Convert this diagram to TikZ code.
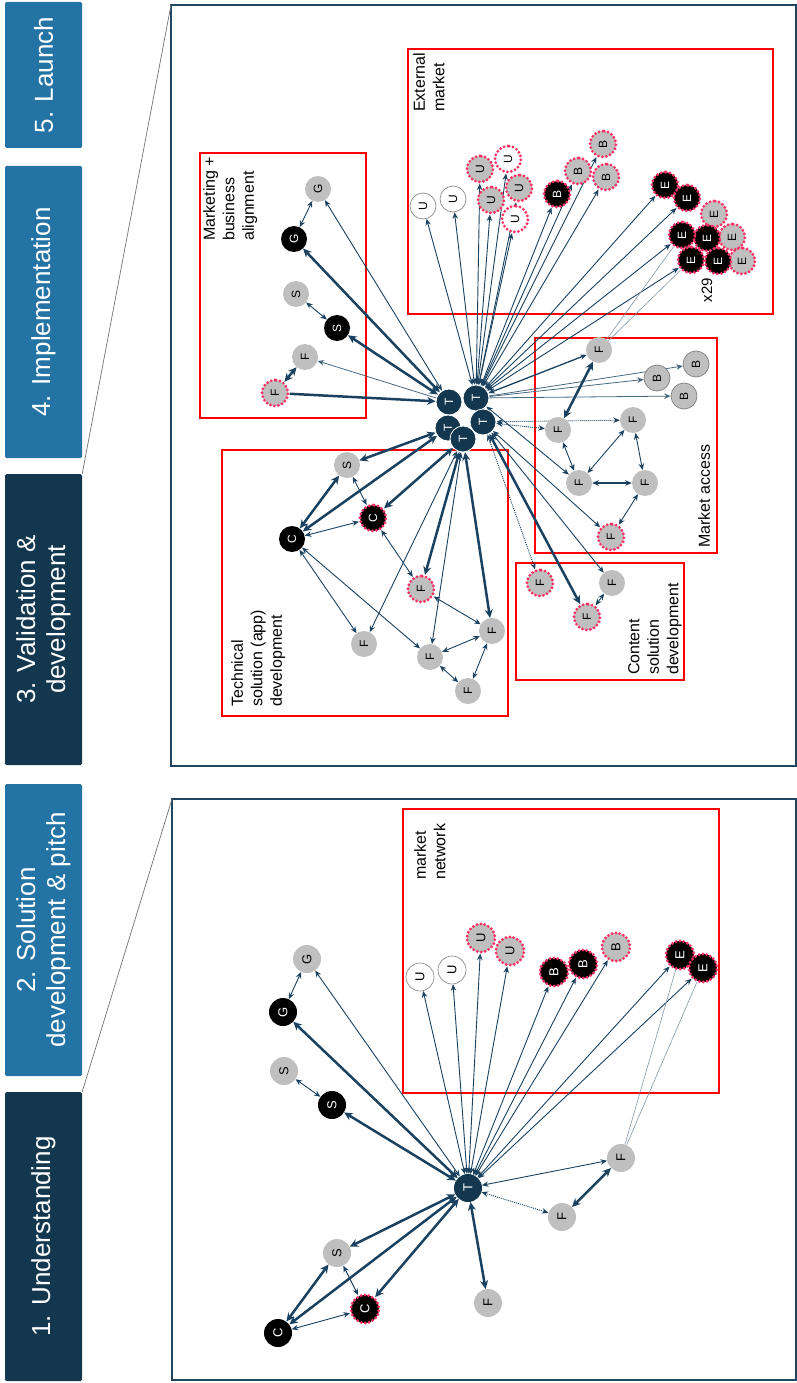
\documentclass[tikz,border=0pt]{standalone}
\usepackage{fontspec}
\setmainfont{Liberation Sans}
\usetikzlibrary{arrows.meta}
\definecolor{navyE}{HTML}{1A4260}
\definecolor{navyT}{HTML}{12374F}
\definecolor{tabL}{HTML}{2473A5}
\definecolor{tabD}{HTML}{12374F}
\definecolor{panelC}{HTML}{1F4561}
\definecolor{grayN}{HTML}{BFBFBF}
\definecolor{pinkD}{HTML}{FF3366}
\definecolor{lightE}{HTML}{8198AA}
\definecolor{boxR}{HTML}{FF0000}
\pgfdeclarelayer{back}
\pgfdeclarelayer{edges}
\pgfsetlayers{back,edges,main}
\tikzset{
  nd/.style={circle, inner sep=0pt, minimum size=26pt, rotate=90, font=\fontsize{12}{12}\selectfont},
  ndL/.style={nd, minimum size=28pt, font=\fontsize{13}{13}\selectfont},
  gry/.style={fill=grayN},
  blk/.style={fill=black, text=white},
  tt/.style={fill=navyT, text=white},
  ttw/.style={fill=navyT, text=white, draw=white, line width=0.8pt},
  wht/.style={fill=white, draw=black!45, line width=0.7pt},
  gbd/.style={fill=grayN, draw=black!50, line width=0.7pt},
  pk/.style={draw=pinkD, line width=3.2pt, dash pattern=on 0pt off 4pt, line cap=round},
  lnk/.style={draw=navyE, line width=0.9pt, {Stealth[length=6.5pt,width=5.5pt]}-{Stealth[length=6.5pt,width=5.5pt]}},
  lnkT/.style={draw=navyE, line width=2.5pt, {Stealth[length=8.5pt,width=8pt]}-{Stealth[length=8.5pt,width=8pt]}},
  lnkT1/.style={draw=navyE, line width=2.5pt, -{Stealth[length=8.5pt,width=8pt]}},
  lnkM/.style={draw=navyE!80, line width=0.8pt, -{Stealth[length=6.5pt,width=5.5pt]}},
  lnkD/.style={lnk, dash pattern=on 1pt off 1pt},
  lnkL/.style={draw=lightE, line width=0.6pt},
  tab/.style={rectangle, rotate=90, minimum height=77pt, inner sep=0pt, text=white, align=center, rounded corners=1.5pt, font=\fontsize{26}{30}\selectfont},
  lab/.style={rotate=90, anchor=north west, align=left, inner sep=0pt, font=\fontsize{16}{19.5}\selectfont},
  rbox/.style={draw=boxR, line width=2pt},
  panel/.style={draw=panelC, line width=2.8pt},
}
\begin{document}
\begin{tikzpicture}[x=1pt,y=-1pt]
\useasboundingbox (0,0) rectangle (797,1383);

% ---------- tabs ----------
\node[tab, fill=tabL, minimum width=146pt] (t5) at (43.5,75) {5. Launch};
\node[tab, fill=tabL, minimum width=292pt] (t4) at (43.5,312) {4. Implementation};
\node[tab, fill=tabD, minimum width=291pt] (t3) at (43.5,619.5) {3. Validation \&\\development};
\node[tab, fill=tabL, minimum width=292pt] (t2) at (43.5,930) {2. Solution\\development \& pitch};
\node[tab, fill=tabD, minimum width=289pt] (t1) at (43.5,1236.5) {1. Understanding};

\coordinate (pu) at (171,5);
\coordinate (pl) at (172,799);

\begin{pgfonlayer}{back}
\draw[panel] (171,5) rectangle (796,766);
\draw[panel] (172,799) rectangle (796,1380);
\draw[rbox] (200,153) rectangle (366,418);
\draw[rbox] (408,49) rectangle (773,314);
\draw[rbox] (535,338) rectangle (717,553);
\draw[rbox] (516,563) rectangle (684,680);
\draw[rbox] (222,450) rectangle (508,716);
\draw[rbox] (403,809) rectangle (719,1093);
\draw[line width=0.7pt, black!55] (t3.south east) -- (pu);
\draw[line width=0.7pt, black!55] (t1.south east) -- (pl);
\end{pgfonlayer}

% ---------- box labels ----------
\node[lab] (lmk) at (203,241) {Marketing +\\business\\alignment};
\node[lab] (lext) at (413,112) {External\\market};
\node[lab] (lma) at (698,548) {Market access};
\node[lab] (lcs) at (628,675) {Content\\solution\\development};
\node[lab] (lts) at (231,707) {Technical\\solution (app)\\development};
\node[lab] (lmn) at (414,880) {market\\network};
\node[rotate=90, inner sep=0pt, font=\fontsize{15}{15}\selectfont] (x29) at (707,290) {x29};

% ---------- upper panel nodes ----------
% marketing
\node[nd,gry] (mGg) at (318,189) {G};
\node[nd,blk] (mGb) at (294,239) {G};
\node[nd,gry] (mSg) at (296,294) {S};
\node[nd,blk] (mSb) at (337,328) {S};
\node[nd,gry] (mFg) at (305,357) {F};
\node[nd,gry,pk] (mFd) at (275,393) {F};
% T cluster
\node[nd,ttw] (Ta) at (449,402) {T};
\node[nd,ttw] (Tb) at (476,398) {T};
\node[nd,ttw] (Tc) at (448,428) {T};
\node[nd,ttw] (Td) at (483,422) {T};
\node[nd,ttw] (Te) at (463,439) {T};
% external market
\node[nd,wht] (u1) at (423,206) {U};
\node[nd,wht] (u2) at (453,199) {U};
\node[nd,gry,pk] (u3) at (480,169) {U};
\node[nd,fill=white,pk] (u4) at (508,159) {U};
\node[nd,gry,pk] (u5) at (491,200) {U};
\node[nd,gry,pk] (u6) at (519,188) {U};
\node[nd,fill=white,pk] (u7) at (515,219) {U};
\node[nd,blk,pk] (b1) at (557,194) {B};
\node[nd,gry,pk] (b2) at (578,171) {B};
\node[nd,gry,pk] (b3) at (603,144) {B};
\node[nd,gry,pk] (b4) at (606,177) {B};
\node[nd,blk,pk] (e1) at (665,185) {E};
\node[nd,blk,pk] (e2) at (687,198) {E};
\node[nd,gry,pk] (e3) at (714,214) {E};
\node[nd,gry,pk] (e6) at (732,237) {E};
\node[nd,gry,pk] (e9) at (742,261) {E};
\node[nd,blk,pk] (e5) at (707,238) {E};
\node[nd,blk,pk] (e8) at (718,261) {E};
\node[nd,blk,pk] (e4) at (682,235) {E};
\node[nd,blk,pk] (e7) at (691,260) {E};
% market access
\node[nd,gry] (aF1) at (599,350) {F};
\node[nd,gbd] (aB1) at (657,378) {B};
\node[nd,gbd] (aB2) at (696,364) {B};
\node[nd,gbd] (aB3) at (684,396) {B};
\node[nd,gry] (aF2) at (558,430) {F};
\node[nd,gry] (aF3) at (633,420) {F};
\node[nd,gry] (aF4) at (579,483) {F};
\node[nd,gry] (aF5) at (645,483) {F};
\node[nd,gry,pk] (aF6) at (611,537) {F};
% content
\node[nd,gry,pk] (cF1) at (540,583) {F};
\node[nd,gry] (cF2) at (612,583) {F};
\node[nd,gry,pk] (cF3) at (587,617) {F};
% technical
\node[nd,gry] (tS) at (347,465) {S};
\node[nd,blk,pk] (tCd) at (373,518) {C};
\node[nd,blk] (tCb) at (292,539) {C};
\node[nd,gry,pk] (tFd) at (421,589) {F};
\node[nd,gry] (tF1) at (364,644) {F};
\node[nd,gry] (tF2) at (492,631) {F};
\node[nd,gry] (tF3) at (430,657) {F};
\node[nd,gry] (tF4) at (468,691) {F};

% ---------- lower panel nodes ----------
\node[ndL,gry] (LGg) at (307,959) {G};
\node[ndL,blk] (LGb) at (283,1012) {G};
\node[ndL,gry] (LSg) at (284,1071) {S};
\node[ndL,blk] (LSb) at (332,1105) {S};
\node[ndL,wht] (LU1) at (420,977) {U};
\node[ndL,wht] (LU2) at (452,970) {U};
\node[ndL,gry,pk] (LU3) at (481,938) {U};
\node[ndL,gry,pk] (LU4) at (510,951) {U};
\node[ndL,blk,pk] (LB1) at (554,972) {B};
\node[ndL,blk,pk] (LB2) at (583,964) {B};
\node[ndL,gry,pk] (LB3) at (616,947) {B};
\node[ndL,blk,pk] (LE1) at (680,955) {E};
\node[ndL,blk,pk] (LE2) at (703,968) {E};
\node[ndL,tt] (LT) at (468,1188) {T};
\node[ndL,gry] (LF1) at (621,1158) {F};
\node[ndL,gry] (LF2) at (562,1217) {F};
\node[ndL,gry] (LS2) at (337,1253) {S};
\node[ndL,gry] (LF3) at (488,1303) {F};
\node[ndL,blk,pk] (LCd) at (365,1309) {C};
\node[ndL,blk] (LCb) at (278,1333) {C};

% ---------- edges ----------
\begin{pgfonlayer}{edges}
% lower panel
\draw[lnkT] (LT) -- (LGb);
\draw[lnk] (LT) -- (LGg);
\draw[lnkT] (LT) -- (LSb);
\draw[lnk] (LSg) -- (LSb);
\draw[lnk] (LGg) -- (LGb);
\foreach \n in {LU1,LU2,LU3,LU4,LB1,LB2,LB3,LE1,LE2} \draw[lnk] (LT) -- (\n);
\draw[lnk] (LT) -- (LF1);
\draw[lnkD] (LT) -- (LF2);
\draw[lnkT] (LF1) -- (LF2);
\draw[lnkL] (LF1) -- (LE1);
\draw[lnkL] (LF1) -- (LE2);
\draw[lnkT] (LT) -- (LS2);
\draw[lnkT] (LT) -- (LCb);
\draw[lnkT] (LT) -- (LCd);
\draw[lnkT] (LT) -- (LF3);
\draw[lnkT] (LS2) -- (LCb);
\draw[lnk] (LS2) -- (LCd);
\draw[lnk] (LCb) -- (LCd);
% upper panel: marketing
\draw[lnkT] (Ta) -- (mGb);
\draw[lnk] (Ta) -- (mGg);
\draw[lnkT] (Ta) -- (mSb);
\draw[lnk] (mSg) -- (mSb);
\draw[lnk] (mGg) -- (mGb);
\draw[lnkM] (Ta) -- (mFg);
\draw[lnkT] (mFd) -- (mFg);
\draw[lnkT1] (mFd) -- (Ta);
% external market
\foreach \n in {u1,u2,u3,u4,u5,u6,u7,b1,b2,b3,b4,e1,e2,e4,e7} \draw[lnk] (Tb) -- (\n);
\draw[lnkL] (aF1) -- (e4);
\draw[lnkL] (aF1) -- (e7);
% market access
\draw[lnk, line width=1.3pt] (Tb) -- (aF1);
\draw[lnkM] (Tb) -- (aB1);
\draw[lnkM] (Tb) -- (aB2);
\draw[lnkM] (Tb) -- (aB3);
\draw[lnkT] (aF1) -- (aF2);
\draw[lnkD] (Td) -- (aF3);
\draw[lnkD] (Td) -- (aF2);
\draw[lnk] (aF2) -- (aF4);
\draw[lnk] (aF3) -- (aF4);
\draw[lnk] (aF3) -- (aF5);
\draw[lnk, line width=1.3pt] (aF4) -- (aF5);
\draw[lnk] (aF5) -- (aF6);
\draw[lnk] (Tb) -- (aF4);
\draw[lnk] (Td) -- (aF6);
% content
\draw[lnkT] (Td) -- (cF3);
\draw[lnk] (Td) -- (cF2);
\draw[lnkD] (Td) -- (cF1);
\draw[lnk] (cF2) -- (cF3);
% technical
\draw[lnkT] (Tc) -- (tS);
\draw[lnkT] (Tc) -- (tCb);
\draw[lnkT] (Te) -- (tCd);
\draw[lnkT] (tS) -- (tCb);
\draw[lnk] (tS) -- (tCd);
\draw[lnk] (tCb) -- (tCd);
\draw[lnk] (tCd) -- (tFd);
\draw[lnkT] (Te) -- (tFd);
\draw[lnk] (Te) -- (tF1);
\draw[lnk] (Te) -- (tF3);
\draw[lnkT] (Te) -- (tF2);
\draw[lnk] (tCb) -- (tF1);
\draw[lnk] (tCb) -- (tF3);
\draw[lnk] (tFd) -- (tF2);
\draw[lnk] (tF3) -- (tF2);
\draw[lnk] (tF3) -- (tF4);
\draw[lnk] (tF4) -- (tF2);
\end{pgfonlayer}
\end{tikzpicture}
\end{document}
